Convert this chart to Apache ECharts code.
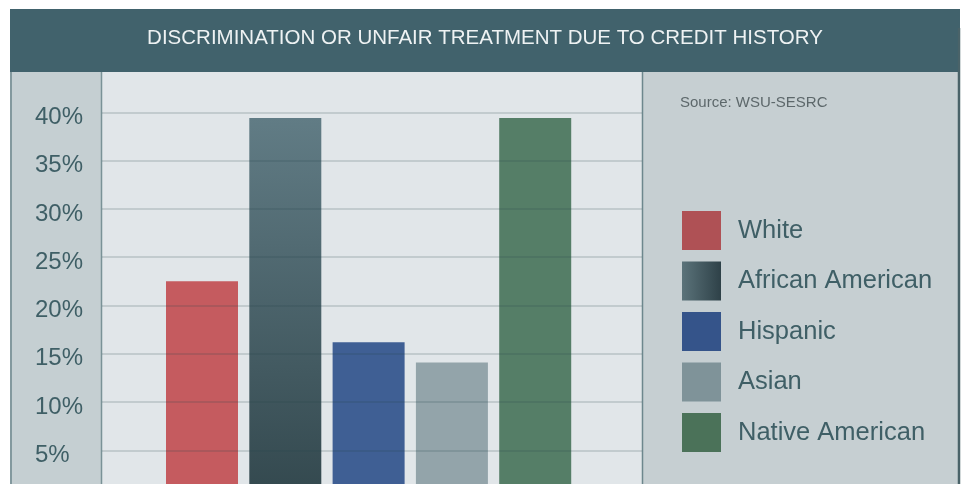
<!DOCTYPE html>
<html>
<head>
<meta charset="utf-8">
<script src="https://cdn.jsdelivr.net/npm/echarts@6/dist/echarts.min.js"></script>
<style>
html,body{margin:0;padding:0;background:#ffffff;}
#chart{width:963px;height:484px;}
</style>
</head>
<body>
<div id="chart"></div>
<script>
// ---- data ----
const titleText = 'DISCRIMINATION OR UNFAIR TREATMENT DUE TO CREDIT HISTORY';
const sourceText = 'Source: WSU-SESRC';
const categories = ['White', 'African American', 'Hispanic', 'Asian', 'Native American'];
const values = [22.5, 39.4, 16.2, 14.1, 39.4];
const yTicks = [5, 10, 15, 20, 25, 30, 35, 40];

// ---- styles ----
const FONT = 'Liberation Sans, Arial, sans-serif';
const TEXT = '#3f5f66';
const barColors = [
  '#c55b5f',
  {type: 'linear', x: 0, y: 0, x2: 0, y2: 1, colorStops: [{offset: 0, color: '#617c85'}, {offset: 1, color: '#33484e'}]},
  '#3f5f94',
  '#93a4aa',
  '#557e67'
];
const legendColors = [
  '#af5155',
  {type: 'linear', x: 0, y: 0, x2: 1, y2: 0, colorStops: [{offset: 0, color: '#5b737a'}, {offset: 1, color: '#2e4148'}]},
  '#35548a',
  '#7f9399',
  '#4b7259'
];

const chart = echarts.init(document.getElementById('chart'), null, {renderer: 'canvas'});

const series = categories.map((name, i) => ({
  name: name,
  type: 'bar',
  data: [[i, values[i]]],
  barWidth: 72,
  barGap: '-100%',
  itemStyle: {color: barColors[i]},
  emphasis: {disabled: true},
  z: 2
}));

chart.setOption({
  animation: false,
  backgroundColor: '#ffffff',
  graphic: [
    {type: 'rect', z: -10, shape: {x: 10, y: 9, width: 950, height: 64}, style: {fill: '#41626c'}},
    {type: 'rect', z: -10, shape: {x: 10, y: 72, width: 92, height: 420}, style: {fill: '#c5cfd2'}},
    {type: 'rect', z: -10, shape: {x: 102, y: 72, width: 541, height: 420}, style: {fill: '#e1e6e9'}},
    {type: 'rect', z: -10, shape: {x: 643, y: 72, width: 315, height: 420}, style: {fill: '#c6cfd2'}},
    {type: 'line', z: -9, shape: {x1: 11, y1: 72, x2: 11, y2: 484}, style: {stroke: '#6d878d', lineWidth: 1.5}},
    {type: 'line', z: -9, shape: {x1: 101.5, y1: 72, x2: 101.5, y2: 484}, style: {stroke: '#7a9297', lineWidth: 1.5}},
    {type: 'line', z: -9, shape: {x1: 642.5, y1: 72, x2: 642.5, y2: 484}, style: {stroke: '#6d878d', lineWidth: 1.5}},
    {type: 'line', z: -9, shape: {x1: 959, y1: 28, x2: 959, y2: 484}, style: {stroke: '#4a6369', lineWidth: 2.5}}
  ],
  title: [
    {
      text: titleText,
      left: 485,
      top: 28,
      padding: 0,
      textAlign: 'center',
      textStyle: {color: '#eef2f3', fontFamily: FONT, fontSize: 20.5, fontWeight: 'normal'}
    },
    {
      text: sourceText,
      left: 680,
      top: 95,
      padding: 0,
      textStyle: {color: '#5d686b', fontFamily: FONT, fontSize: 15, fontWeight: 'normal'}
    }
  ],
  legend: {
    orient: 'vertical',
    left: 682,
    top: 211,
    itemWidth: 39,
    itemHeight: 39,
    itemGap: 11.5,
    icon: 'rect',
    selectedMode: false,
    padding: 0,
    textStyle: {color: TEXT, fontFamily: FONT, fontSize: 25.5, padding: [0, 0, 0, 12]},
    data: categories.map((n, i) => ({name: n, itemStyle: {color: legendColors[i]}}))
  },
  grid: {left: 102, right: 321, top: 112.3, height: 386.3, containLabel: false, outerBoundsMode: 'none'},
  xAxis: {
    type: 'value',
    min: -1.2005,
    max: 5.282,
    show: false
  },
  yAxis: {
    type: 'value',
    min: 0,
    max: 40,
    interval: 5,
    z: 10,
    axisLine: {show: false},
    axisTick: {show: false},
    splitLine: {show: true, lineStyle: {color: 'rgba(40,70,76,0.22)', width: 1.5}},
    axisLabel: {
      margin: 67,
      align: 'left',
      color: TEXT,
      fontFamily: FONT,
      fontSize: 24,
      verticalAlign: 'top',
      lineHeight: 10,
      formatter: v => (yTicks.indexOf(v) >= 0 ? v + '%' : '')
    }
  },
  series: series
});
</script>
</body>
</html>
